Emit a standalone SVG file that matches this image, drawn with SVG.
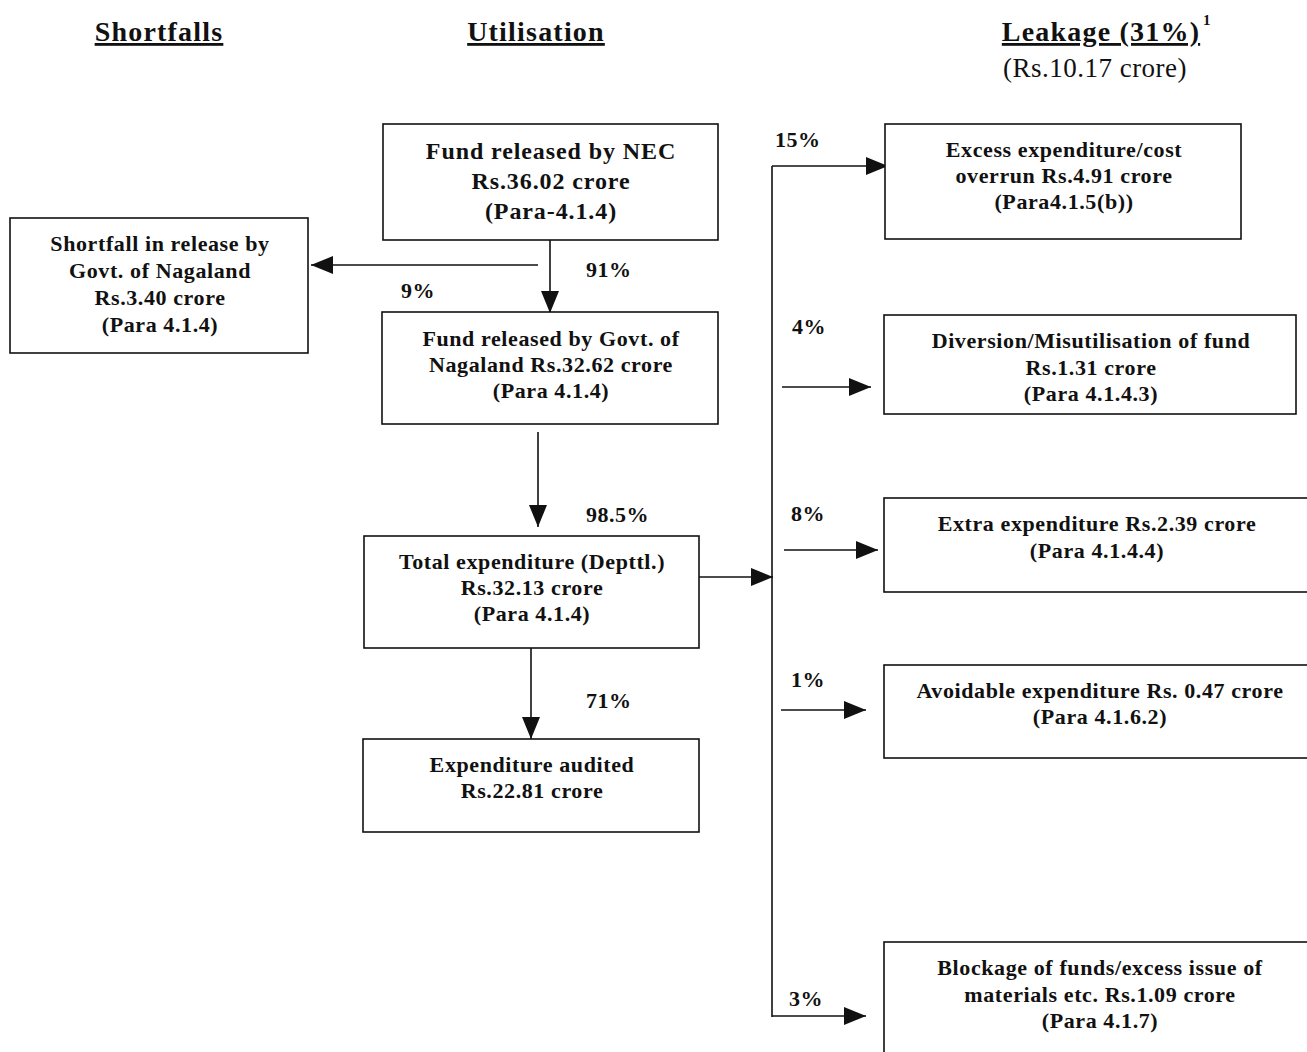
<svg xmlns="http://www.w3.org/2000/svg" width="1307" height="1052" viewBox="0 0 1307 1052">
<defs>
<style>
.hd{font-family:"Liberation Serif",serif;font-size:28px;font-weight:bold;fill:#111;text-decoration:underline;text-anchor:middle;letter-spacing:1.2px}
.sub{font-family:"Liberation Serif",serif;font-size:27px;fill:#111;text-anchor:middle;letter-spacing:0.5px}
.bx{fill:#fff;stroke:#111;stroke-width:1.6}
.t{font-family:"Liberation Serif",serif;font-weight:bold;fill:#111;text-anchor:middle;font-size:22px;letter-spacing:0.6px}
.tl{font-family:"Liberation Serif",serif;font-weight:bold;fill:#111;text-anchor:middle;font-size:24px;letter-spacing:0.9px}
.lb{font-family:"Liberation Serif",serif;font-weight:bold;fill:#111;font-size:22px;letter-spacing:0.5px}
.c{fill:none;stroke:#111;stroke-width:1.6}
</style>
<marker id="ah" markerUnits="userSpaceOnUse" markerWidth="24" markerHeight="18" refX="22" refY="9" orient="auto">
<path d="M0,0 L22,9 L0,18 Z" fill="#111"/>
</marker>
</defs>
<rect width="1307" height="1052" fill="#fff"/>
<g id="headers">
<text class="hd" x="159" y="41">Shortfalls</text>
<text class="hd" x="536" y="41">Utilisation</text>
<text class="hd" x="1101" y="41">Leakage (31%)</text>
<text x="1203" y="25" font-family="Liberation Serif,serif" font-size="15" font-weight="bold" fill="#111">1</text>
<text class="sub" x="1095" y="77">(Rs.10.17 crore)</text>
</g>
<g id="connectors">
<line class="c" x1="550" y1="240" x2="550" y2="313" marker-end="url(#ah)"/>
<line class="c" x1="538" y1="265" x2="311" y2="265" marker-end="url(#ah)"/>
<line class="c" x1="538" y1="432" x2="538" y2="527" marker-end="url(#ah)"/>
<line class="c" x1="531" y1="648" x2="531" y2="739" marker-end="url(#ah)"/>
<line class="c" x1="699" y1="577" x2="773" y2="577" marker-end="url(#ah)"/>
<line class="c" x1="772" y1="166" x2="772" y2="1017"/>
<line class="c" x1="772" y1="166" x2="888" y2="166" marker-end="url(#ah)"/>
<line class="c" x1="782" y1="387" x2="871" y2="387" marker-end="url(#ah)"/>
<line class="c" x1="784" y1="550" x2="878" y2="550" marker-end="url(#ah)"/>
<line class="c" x1="781" y1="710" x2="866" y2="710" marker-end="url(#ah)"/>
<line class="c" x1="772" y1="1016" x2="866" y2="1016" marker-end="url(#ah)"/>
<text class="lb" x="586" y="277">91%</text>
<text class="lb" x="401" y="298">9%</text>
<text class="lb" x="586" y="522">98.5%</text>
<text class="lb" x="586" y="708">71%</text>
<text class="lb" x="775" y="147">15%</text>
<text class="lb" x="792" y="334">4%</text>
<text class="lb" x="791" y="521">8%</text>
<text class="lb" x="791" y="687">1%</text>
<text class="lb" x="789" y="1006">3%</text>
</g>
<g id="nec">
<rect class="bx" x="383" y="124" width="335" height="116"/>
<text class="tl" x="551" y="159">Fund released by NEC</text>
<text class="tl" x="551" y="189">Rs.36.02 crore</text>
<text class="tl" x="551" y="219">(Para-4.1.4)</text>
</g>
<g id="shortfall">
<rect class="bx" x="10" y="218" width="298" height="135"/>
<text class="t" x="160" y="251">Shortfall in release by</text>
<text class="t" x="160" y="278">Govt. of Nagaland</text>
<text class="t" x="160" y="305">Rs.3.40 crore</text>
<text class="t" x="160" y="332">(Para 4.1.4)</text>
</g>
<g id="govt">
<rect class="bx" x="382" y="312" width="336" height="112"/>
<text class="t" x="551" y="346">Fund released by Govt. of</text>
<text class="t" x="551" y="372">Nagaland Rs.32.62 crore</text>
<text class="t" x="551" y="398">(Para 4.1.4)</text>
</g>
<g id="total">
<rect class="bx" x="364" y="536" width="335" height="112"/>
<text class="t" x="532" y="569">Total expenditure (Depttl.)</text>
<text class="t" x="532" y="595">Rs.32.13 crore</text>
<text class="t" x="532" y="621">(Para 4.1.4)</text>
</g>
<g id="audited">
<rect class="bx" x="363" y="739" width="336" height="93"/>
<text class="t" x="532" y="772">Expenditure audited</text>
<text class="t" x="532" y="798">Rs.22.81 crore</text>
</g>
<g id="excess">
<rect class="bx" x="885" y="124" width="356" height="115"/>
<text class="t" x="1064" y="157">Excess expenditure/cost</text>
<text class="t" x="1064" y="183">overrun Rs.4.91 crore</text>
<text class="t" x="1064" y="209">(Para4.1.5(b))</text>
</g>
<g id="diversion">
<rect class="bx" x="884" y="315" width="412" height="99"/>
<text class="t" x="1091" y="348">Diversion/Misutilisation of fund</text>
<text class="t" x="1091" y="375">Rs.1.31 crore</text>
<text class="t" x="1091" y="401">(Para 4.1.4.3)</text>
</g>
<g id="extra">
<rect class="bx" x="884" y="498" width="430" height="94"/>
<text class="t" x="1097" y="531">Extra expenditure Rs.2.39 crore</text>
<text class="t" x="1097" y="558">(Para 4.1.4.4)</text>
</g>
<g id="avoidable">
<rect class="bx" x="884" y="665" width="430" height="93"/>
<text class="t" x="1100" y="698">Avoidable expenditure Rs. 0.47 crore</text>
<text class="t" x="1100" y="724">(Para 4.1.6.2)</text>
</g>
<g id="blockage">
<rect class="bx" x="884" y="942" width="430" height="130"/>
<text class="t" x="1100" y="975">Blockage of funds/excess issue of</text>
<text class="t" x="1100" y="1002">materials etc. Rs.1.09 crore</text>
<text class="t" x="1100" y="1028">(Para 4.1.7)</text>
</g>
</svg>
